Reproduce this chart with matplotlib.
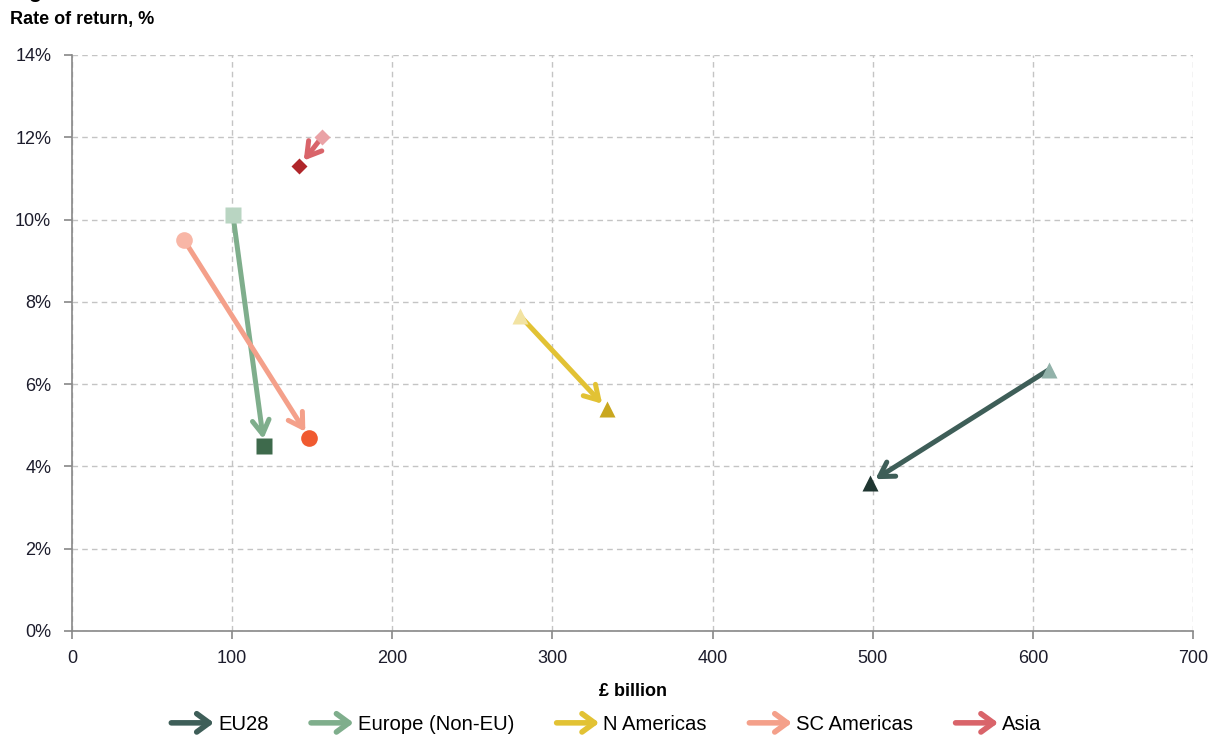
import matplotlib
matplotlib.use("Agg")
import matplotlib.pyplot as plt
from matplotlib.patches import FancyArrowPatch
from matplotlib.legend_handler import HandlerPatch

plt.rcParams['font.family'] = ['Liberation Sans', 'DejaVu Sans']

# regions, stock (£ billion) and rate of return (%) at start and end of period
regions = ['EU28', 'Europe (Non-EU)', 'N Americas', 'SC Americas', 'Asia']
x_start = [610, 100.5, 280, 70, 156]
y_start = [6.35, 10.1, 7.65, 9.5, 12.0]
x_end = [498, 120, 334, 148, 142]
y_end = [3.6, 4.5, 5.4, 4.7, 11.3]
markers = ['^', 's', '^', 'o', 'D']
arrow_col = ['#3e5e58', '#7fae8c', '#e2c234', '#f4a08a', '#d9646a']
start_col = ['#92b2aa', '#b9d5c2', '#f2e3a2', '#f8b6a6', '#eaa2a6']
end_col = ['#1f3631', '#3e6a4c', '#c9a71f', '#f05a30', '#b0262a']
marker_size = [11, 12, 11, 12, 8]

fig = plt.figure(figsize=(12.13, 7.36), dpi=100)
ax = fig.add_axes([0.0594, 0.1427, 0.9241, 0.7826])

for i in range(len(regions)):
    ax.annotate('', xy=(x_end[i], y_end[i]), xytext=(x_start[i], y_start[i]),
                arrowprops=dict(arrowstyle='->,head_length=1.0,head_width=0.6',
                                color=arrow_col[i], lw=3.6, shrinkA=0, shrinkB=5),
                zorder=3)
    ax.plot(x_start[i], y_start[i], marker=markers[i], ms=marker_size[i],
            color=start_col[i], mec='none', zorder=4, ls='none')
    ax.plot(x_end[i], y_end[i], marker=markers[i], ms=marker_size[i],
            color=end_col[i], mec='none', zorder=4, ls='none')

ax.set_xlim(0, 700)
ax.set_ylim(0, 14)
ax.set_xticks(range(0, 701, 100))
ax.set_yticks(range(0, 15, 2))
ax.set_yticklabels([f'{v}%' for v in range(0, 15, 2)])
ax.tick_params(labelsize=13, labelcolor='#1c1c2c', length=6, color='#888888', width=1.2)
ax.tick_params(axis='y', pad=9)
ax.tick_params(axis='x', pad=8)
ax.grid(True, ls=(0, (4, 3)), color='#c4c4c4', lw=1)
ax.set_axisbelow(True)
for s in ['top', 'right']:
    ax.spines[s].set_visible(False)
for s in ['left', 'bottom']:
    ax.spines[s].set_color('#888888')
    ax.spines[s].set_linewidth(1.2)

fig.text(0.008, 0.973, 'Rate of return, %', fontsize=13, fontweight='bold', ha='left', va='center')
fig.text(0.008, 1.012, 'Figure', fontsize=16, fontweight='bold', ha='left', va='center')
ax.set_xlabel('£ billion', fontsize=13, fontweight='bold', labelpad=11)


class HandlerArrow(HandlerPatch):
    def create_artists(self, legend, orig_handle, xdescent, ydescent, width, height, fontsize, trans):
        y = height / 2 - ydescent
        p = FancyArrowPatch((-xdescent, y), (width - xdescent, y),
                            arrowstyle='->,head_length=0.75,head_width=0.55',
                            color=orig_handle.get_edgecolor(), lw=4.0,
                            mutation_scale=12, shrinkA=0, shrinkB=0)
        p.set_transform(trans)
        return [p]


handles = [FancyArrowPatch((0, 0), (1, 0), color=c) for c in arrow_col]
fig.legend(handles, regions, loc='lower center', bbox_to_anchor=(0.5, -0.022), ncol=5,
           frameon=False, fontsize=14.6, handlelength=2.1, handletextpad=0.2,
           columnspacing=2.1, handler_map={FancyArrowPatch: HandlerArrow()})

fig.savefig('out.png', dpi=100)
